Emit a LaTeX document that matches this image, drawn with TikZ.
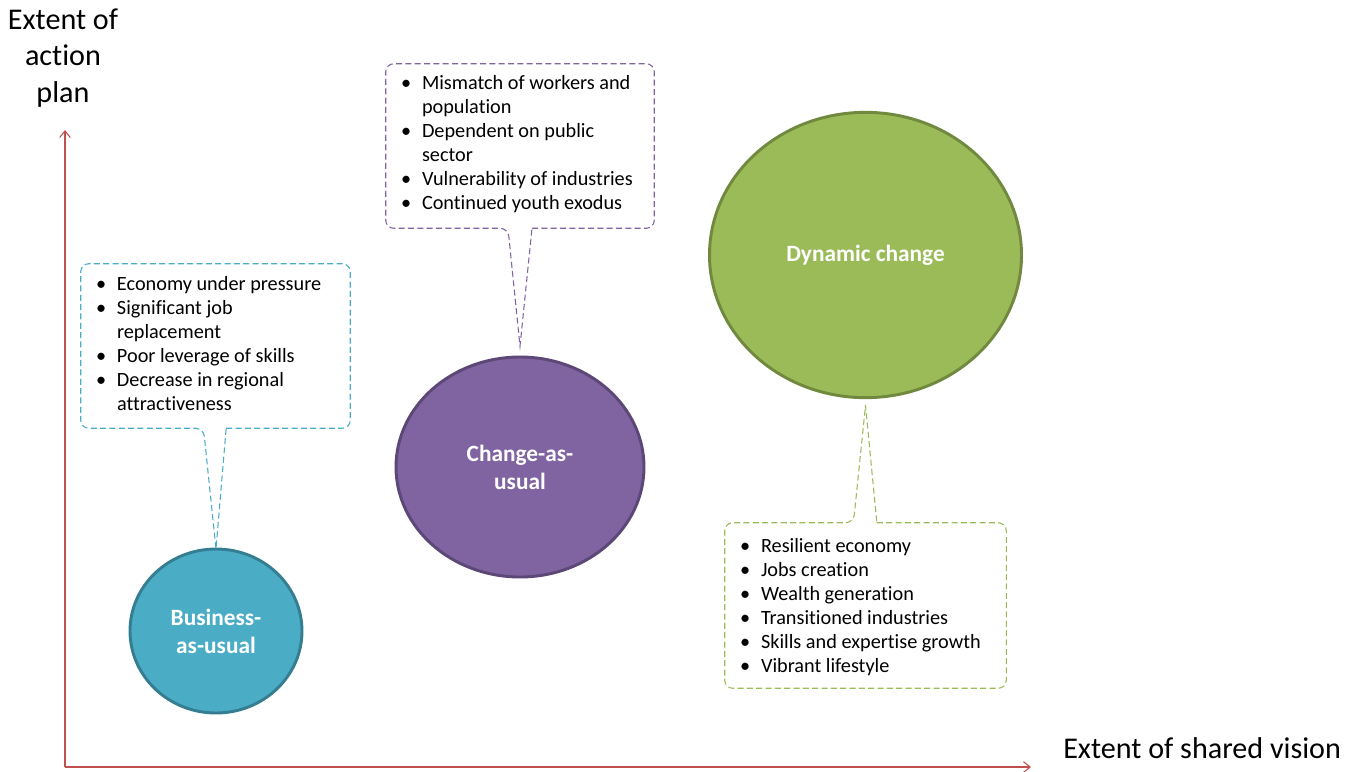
\documentclass[tikz,border=0pt]{standalone}
\usepackage{fontspec}
\setmainfont{Carlito}[Ligatures=NoCommon]
\usetikzlibrary{arrows.meta,positioning,shapes.geometric}

\definecolor{axisred}{HTML}{C0504D}
\definecolor{bauFill}{HTML}{4BACC6}
\definecolor{bauEdge}{HTML}{357D91}
\definecolor{cauFill}{HTML}{8064A2}
\definecolor{cauEdge}{HTML}{5C4776}
\definecolor{dynFill}{HTML}{9BBB59}
\definecolor{dynEdge}{HTML}{71893F}

\tikzset{
  axis/.style={draw=axisred,line width=0.8pt,-{Straight Barb[length=5pt,width=8pt]}},
  axislabel/.style={font=\fontsize{22.6}{27.5}\selectfont,align=center,inner sep=0pt},
  scenario/.style={ellipse,line width=2.2pt,inner sep=0pt,text=white,
    font=\fontsize{17.5}{21}\selectfont\bfseries,align=center},
  callbox/.style={rectangle,inner sep=0pt},
  calltext/.style={anchor=north west,inner sep=0pt,font=\fontsize{15.2}{18}\selectfont},
  callline/.style={dash pattern=on 4.5pt off 2.5pt,line width=0.8pt}
}

\newcommand\bl{\textbullet}

\begin{document}
\begin{tikzpicture}[x=0.75pt,y=-0.75pt]
\useasboundingbox (0,0) rectangle (1358,771);

% axes
\coordinate (origin) at (65,767);
\coordinate (ytop) at (65,130);
\coordinate (xend) at (1031,767);
\draw[axis] (origin) -- (ytop);
\draw[axis] (origin) -- (xend);
\node[axislabel] (ylab) at (63,58) {Extent of\\action\\plan};
\node[axislabel,anchor=west] (xlab) at (1063,748) {Extent of shared vision};

% scenarios
\node[scenario,fill=bauFill,draw=bauEdge,minimum width=129pt,minimum height=123pt] (bau) at (216,631) {Business-\\as-usual};
\node[scenario,fill=cauFill,draw=cauEdge,minimum width=186pt,minimum height=165pt] (cau) at (520,467) {Change-as-\\usual};
\node[scenario,fill=dynFill,draw=dynEdge,minimum width=234pt,minimum height=214pt] (dyn) at (865.5,255) {Dynamic change};

% callout boxes
\node[callbox,minimum width=201.75pt,minimum height=123pt] (bauBox) at (215.5,346) {};
\node[callbox,minimum width=201pt,minimum height=123pt] (cauBox) at (520,146) {};
\node[callbox,minimum width=210.75pt,minimum height=123.75pt] (dynBox) at (865.5,605.5) {};

\node[calltext] (bauText) at ([shift={(15,9.5)}]bauBox.north west) {%
  \begin{tabular}{@{}p{15.75pt}@{}l@{}}
  \bl & Economy under pressure\\
  \bl & Significant job\\
      & replacement\\
  \bl & Poor leverage of skills\\
  \bl & Decrease in regional\\
      & attractiveness
  \end{tabular}};
\node[calltext] (cauText) at ([shift={(15,9)}]cauBox.north west) {%
  \begin{tabular}{@{}p{15.75pt}@{}l@{}}
  \bl & Mismatch of workers and\\
      & population\\
  \bl & Dependent on public\\
      & sector\\
  \bl & Vulnerability of industries\\
  \bl & Continued youth exodus
  \end{tabular}};
\node[calltext] (dynText) at ([shift={(15,12.5)}]dynBox.north west) {%
  \begin{tabular}{@{}p{15.75pt}@{}l@{}}
  \bl & Resilient economy\\
  \bl & Jobs creation\\
  \bl & Wealth generation\\
  \bl & Transitioned industries\\
  \bl & Skills and expertise growth\\
  \bl & Vibrant lifestyle
  \end{tabular}};

% callout outlines with pointers
\draw[callline,draw=bauFill]
  ([xshift=8pt]bauBox.south) [rounded corners=6pt] -- (bauBox.south east) -- (bauBox.north east) -- (bauBox.north west) -- (bauBox.south west)
  -- ([xshift=-9pt]bauBox.south) [sharp corners] -- ([yshift=-1pt]bau.north) -- cycle;
\draw[callline,draw=cauFill]
  ([xshift=9pt]cauBox.south) [rounded corners=6pt] -- (cauBox.south east) -- (cauBox.north east) -- (cauBox.north west) -- (cauBox.south west)
  -- ([xshift=-9pt]cauBox.south) [sharp corners] -- ([yshift=7pt]cau.north) -- cycle;
\draw[callline,draw=dynFill]
  ([xshift=8.5pt]dynBox.north) [rounded corners=6pt] -- (dynBox.north east) -- (dynBox.south east) -- (dynBox.south west) -- (dynBox.north west)
  -- ([xshift=-9pt]dynBox.north) [sharp corners] -- ([yshift=-4.5pt]dyn.south) -- cycle;

\end{tikzpicture}
\end{document}
